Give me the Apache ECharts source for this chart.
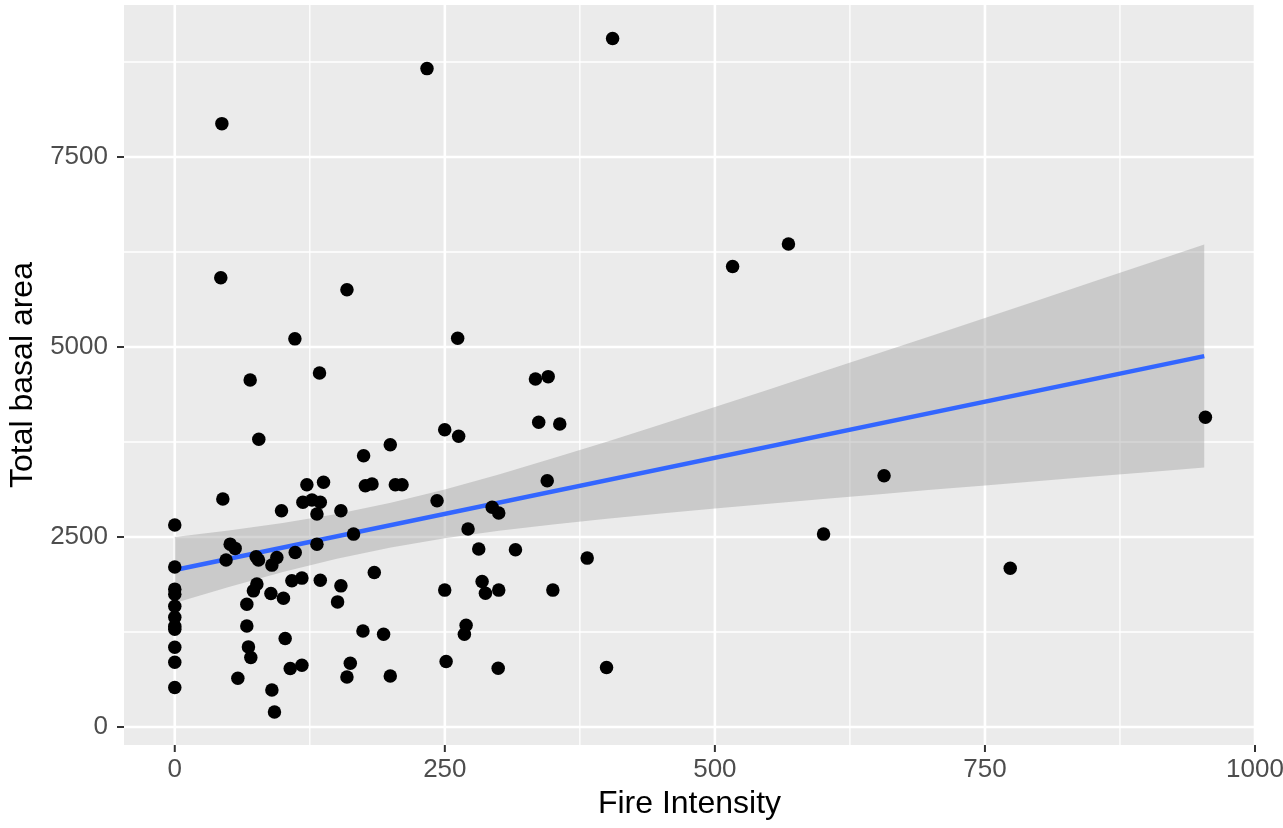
<!DOCTYPE html>
<html>
<head>
<meta charset="utf-8">
<script src="https://cdn.jsdelivr.net/npm/echarts@6/dist/echarts.min.js"></script>
<style>
html,body{margin:0;padding:0;background:#fff;}
#chart{width:1283px;height:828px;}
</style>
</head>
<body>
<div id="chart"></div>
<script>
// Scatter points: Fire Intensity (x) vs Total basal area (y)
const fireIntensity = [
  43.6, 233.5, 405.3, 42.6, 159.4, 111.2, 261.9, 69.8, 134.0, 333.9,
  345.7, 336.9, 356.4, 77.8, 249.9, 262.8, 199.5, 174.8, 344.8, 44.5,
  98.8, 122.3, 137.7, 118.6, 127.0, 134.7, 131.6, 153.8, 176.4, 182.6,
  204.2, 210.4, 242.8, 293.8, 299.9, 271.5, 165.5, 0, 131.6, 51.3,
  55.9, 47.5, 75.3, 77.5, 89.9, 94.5, 111.5, 281.4, 315.4, 381.8,
  0, 184.7, 108.4, 117.7, 134.7, 76.0, 153.8, 284.5, 287.6, 249.9,
  299.9, 350.0, 0, 0, 72.8, 89.0, 100.6, 66.7, 150.7, 0,
  0, 0, 0, 66.7, 269.7, 268.1, 174.2, 193.3, 102.2, 0,
  68.2, 70.4, 0, 251.2, 162.5, 106.9, 117.7, 299.4, 399.7, 58.4,
  159.4, 199.5, 0, 89.9, 92.3, 516.4, 568.1, 656.6, 600.6, 773.4,
  954.1
];
const basalArea = [
  7939, 8663, 9058, 5910, 5752, 5107, 5116, 4567, 4659, 4580,
  4610, 4009, 3987, 3786, 3912, 3825, 3714, 3570, 3240, 2999,
  2845, 3188, 3219, 2956, 2986, 2956, 2802, 2845, 3174, 3197,
  3188, 3188, 2977, 2890, 2815, 2604, 2538, 2657, 2406, 2406,
  2350, 2196, 2239, 2196, 2130, 2231, 2297, 2341, 2331, 2222,
  2104, 2034, 1923, 1959, 1932, 1880, 1857, 1915, 1761, 1801,
  1801, 1801, 1814, 1748, 1791, 1757, 1695, 1616, 1646, 1590,
  1445, 1326, 1287, 1330, 1340, 1221, 1264, 1221, 1164, 1050,
  1054, 914, 852, 861, 839, 769, 813, 773, 782, 641,
  659, 672, 519, 487, 198, 6059, 6354, 3306, 2538, 2090,
  4075
];

// Fitted line (endpoints)
const fitX = [0, 953];
const fitY = [2066, 4880];

// Confidence band
const bandX     = [0,    50,   100,  150,  200,  250,  300,  350,  400,  450,  500,  550,  600,  650,  700,  750,  800,  850,  900,  953];
const bandUpper = [2501, 2585, 2683, 2804, 2952, 3126, 3323, 3535, 3754, 3981, 4210, 4442, 4676, 4910, 5146, 5383, 5619, 5857, 6095, 6347];
const bandLower = [1631, 1843, 2039, 2214, 2362, 2482, 2581, 2665, 2740, 2809, 2876, 2938, 3000, 3060, 3120, 3179, 3237, 3295, 3353, 3413];

// Axis ticks and grid lines
const xTicks = [0, 250, 500, 750, 1000];
const xMinor = [125, 375, 625, 875];
const yTicks = [0, 2500, 5000, 7500];
const yMinor = [1250, 3750, 6250, 8750];

const chart = echarts.init(document.getElementById('chart'), null, {renderer: 'canvas'});

const points = fireIntensity.map((x, i) => [x, basalArea[i]]);
const fitData = fitX.map((x, i) => [x, fitY[i]]);

const gridLineData = []
  .concat(xTicks.map(v => ['x', v, 'major']))
  .concat(xMinor.map(v => ['x', v, 'minor']))
  .concat(yTicks.map(v => ['y', v, 'major']))
  .concat(yMinor.map(v => ['y', v, 'minor']));

const FONT = '"Liberation Sans", Arial, Helvetica, sans-serif';
const TICK_LEN = 7;

chart.setOption({
  animation: false,
  backgroundColor: '#ffffff',
  grid: {
    left: 124, right: 28, top: 5, bottom: 83,
    outerBoundsMode: 'none', containLabel: false,
    show: true, backgroundColor: '#EBEBEB', borderWidth: 0
  },
  xAxis: {
    type: 'value', min: -47, max: 1000,
    name: 'Fire Intensity', nameLocation: 'middle', nameGap: 41,
    nameTextStyle: {color: '#000000', fontSize: 32, fontFamily: FONT},
    axisLine: {show: false},
    splitLine: {show: false},
    axisTick: {show: false},
    axisLabel: {customValues: xTicks, color: '#4D4D4D', fontSize: 26, fontFamily: FONT, margin: 12,
      formatter: v => String(v)}
  },
  yAxis: {
    type: 'value', min: -237, max: 9500,
    name: 'Total basal area', nameLocation: 'middle', nameGap: 81,
    nameTextStyle: {color: '#000000', fontSize: 32, fontFamily: FONT},
    axisLine: {show: false},
    splitLine: {show: false},
    axisTick: {show: false},
    axisLabel: {customValues: yTicks, color: '#4D4D4D', fontSize: 26, fontFamily: FONT, margin: 16,
      formatter: v => String(v)}
  },
  series: [
    {
      type: 'custom', name: 'grid', silent: true, z: 1, clip: false,
      data: gridLineData,
      renderItem: function (params, api) {
        const cs = params.coordSys;
        const d = gridLineData[params.dataIndex];
        const major = d[2] === 'major';
        const w = major ? 2.6 : 1.3;
        const children = [];
        if (d[0] === 'x') {
          const px = api.coord([d[1], 0])[0];
          children.push({type: 'line', shape: {x1: px, y1: cs.y, x2: px, y2: cs.y + cs.height},
            style: {stroke: '#FFFFFF', lineWidth: w}});
          if (major) children.push({type: 'line',
            shape: {x1: px, y1: cs.y + cs.height, x2: px, y2: cs.y + cs.height + TICK_LEN},
            style: {stroke: '#333333', lineWidth: 2}});
        } else {
          const py = api.coord([0, d[1]])[1];
          children.push({type: 'line', shape: {x1: cs.x, y1: py, x2: cs.x + cs.width, y2: py},
            style: {stroke: '#FFFFFF', lineWidth: w}});
          if (major) children.push({type: 'line',
            shape: {x1: cs.x - TICK_LEN, y1: py, x2: cs.x, y2: py},
            style: {stroke: '#333333', lineWidth: 2}});
        }
        return {type: 'group', children: children};
      }
    },
    {
      type: 'custom', name: 'band', silent: true, z: 2,
      data: [[0, 0]],
      renderItem: function (params, api) {
        const pts = [];
        for (let i = 0; i < bandX.length; i++) pts.push(api.coord([bandX[i], bandUpper[i]]));
        for (let i = bandX.length - 1; i >= 0; i--) pts.push(api.coord([bandX[i], bandLower[i]]));
        return {type: 'polygon', shape: {points: pts}, style: {fill: 'rgba(153,153,153,0.4)'}};
      }
    },
    {
      type: 'line', name: 'fit', z: 3, silent: true,
      data: fitData, showSymbol: false, symbol: 'none',
      lineStyle: {color: '#3366FF', width: 4.5}
    },
    {
      type: 'scatter', name: 'points', z: 4, silent: true,
      data: points, symbolSize: 13.5,
      itemStyle: {color: '#000000', opacity: 1}
    }
  ]
});
</script>
</body>
</html>
